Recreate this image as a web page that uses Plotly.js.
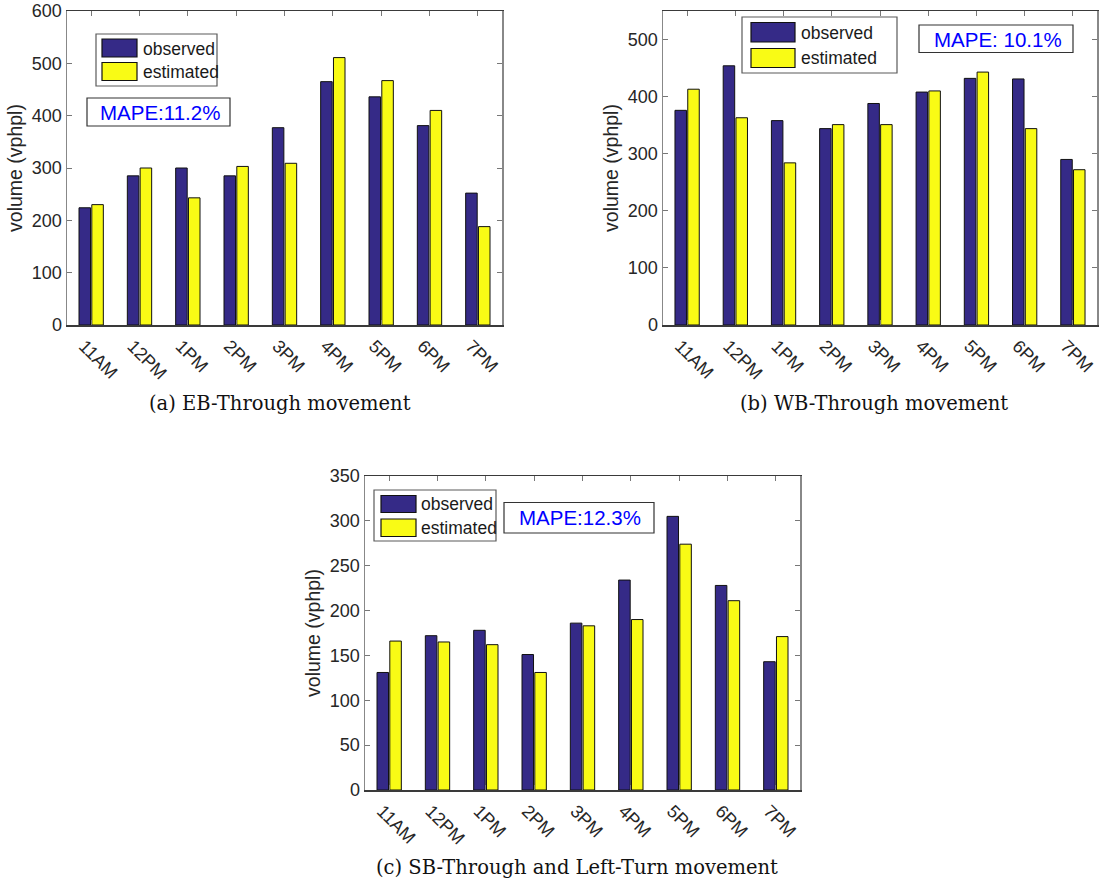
<!DOCTYPE html>
<html>
<head>
<meta charset="utf-8">
<script src="https://cdn.plot.ly/plotly-3.0.1.min.js"></script>
<style>
  html, body { margin: 0; padding: 0; background: #ffffff; }
  #chart { width: 1102px; height: 883px; }
</style>
</head>
<body>
<div id="chart"></div>
<script>
// Hourly volumes (vehicles per hour per lane), observed vs. estimated
const hours = ['11AM', '12PM', '1PM', '2PM', '3PM', '4PM', '5PM', '6PM', '7PM'];

const ebObserved  = [224, 285, 300, 285, 377, 465, 436, 381, 252];
const ebEstimated = [230, 300, 243, 303, 309, 511, 467, 410, 188];

const wbObserved  = [376, 454, 358, 344, 388, 408, 432, 431, 290];
const wbEstimated = [413, 363, 284, 351, 351, 410, 443, 344, 272];

const sbObserved  = [131, 172, 178, 151, 186, 234, 305, 228, 143];
const sbEstimated = [166, 165, 162, 131, 183, 190, 274, 211, 171];

const seriesNames = ['observed', 'estimated'];
const mapeLabels = ['MAPE:11.2%', 'MAPE: 10.1%', 'MAPE:12.3%'];
const captions = ['(a) EB-Through movement', '(b) WB-Through movement',
                  '(c) SB-Through and Left-Turn movement'];

const W = 1102, H = 883;
const COLOR_OBS = '#352a87';
const COLOR_EST = '#f9fb15';
const SANS = 'Liberation Sans, Arial, sans-serif';
const SERIF = 'DejaVu Serif, serif';

// pixel helpers -> paper coordinates
const px = x => x / W;
const py = y => 1 - y / H;

// panel boxes in pixels: [left, top, right, bottom]
const panels = [
  { box: [67, 11, 502, 325], yRange: [0, 600], dtick: 100 },
  { box: [663, 11, 1097, 325], yRange: [0, 550], dtick: 100 },
  { box: [365, 476, 800, 790], yRange: [0, 350], dtick: 50 }
];

const panelData = [
  [ebObserved, ebEstimated],
  [wbObserved, wbEstimated],
  [sbObserved, sbEstimated]
];

const traces = [];
panelData.forEach((pair, i) => {
  const xa = i === 0 ? 'x' : 'x' + (i + 1);
  const ya = i === 0 ? 'y' : 'y' + (i + 1);
  pair.forEach((vals, j) => {
    traces.push({
      type: 'bar',
      x: hours,
      y: vals,
      name: seriesNames[j],
      xaxis: xa,
      yaxis: ya,
      showlegend: false,
      marker: { color: j === 0 ? COLOR_OBS : COLOR_EST, line: { color: '#111111', width: 1 } },
      hoverinfo: 'x+y+name'
    });
  });
});

const layout = {
  width: W,
  height: H,
  autosize: false,
  margin: { l: 0, r: 0, t: 0, b: 0 },
  paper_bgcolor: '#ffffff',
  plot_bgcolor: '#ffffff',
  barmode: 'group',
  bargap: 0.47,
  bargroupgap: 0.1,
  shapes: [],
  annotations: []
};

panels.forEach((p, i) => {
  const [l, t, r, b] = p.box;
  const sx = i === 0 ? '' : String(i + 1);
  layout['xaxis' + sx] = {
    domain: [px(l), px(r)],
    anchor: 'y' + sx,
    type: 'category',
    showline: true,
    linecolor: '#3a3a3a',
    linewidth: 1.5,
    mirror: 'ticks',
    ticks: 'inside',
    ticklen: 5,
    tickcolor: '#777777',
    tickangle: 45,
    ticklabelshift: -7,
    ticklabelstandoff: 2,
    tickfont: { family: SANS, size: 18, color: '#262626' },
    showgrid: false,
    zeroline: false,
    fixedrange: true
  };
  layout['yaxis' + sx] = {
    domain: [py(b), py(t)],
    anchor: 'x' + sx,
    range: p.yRange,
    dtick: p.dtick,
    tick0: 0,
    showline: true,
    linecolor: '#888888',
    linewidth: 1.5,
    mirror: 'ticks',
    ticks: 'inside',
    ticklen: 5,
    tickcolor: '#777777',
    tickfont: { family: SANS, size: 18, color: '#262626' },
    title: { text: 'volume (vphpl)', font: { family: SANS, size: 19.5, color: '#262626' }, standoff: 4 },
    showgrid: false,
    zeroline: false,
    fixedrange: true
  };
});

// legend boxes drawn per panel
const legends = [
  { box: [96, 34, 217, 86], sw: [102, 137], swY: [[39, 57], [62.5, 80.5]], textX: 140.5, textY: [49, 71.5] },
  { box: [742, 17, 897, 73], sw: [751, 795], swY: [[22.5, 42], [48.5, 67.5]], textX: 799, textY: [32.5, 57.5] },
  { box: [374, 490, 496, 541], sw: [381, 416], swY: [[495.5, 512.5], [519, 536.5]], textX: 419, textY: [503.5, 527.5] }
];

legends.forEach(lg => {
  layout.shapes.push({
    type: 'rect', xref: 'paper', yref: 'paper',
    x0: px(lg.box[0]), x1: px(lg.box[2]), y0: py(lg.box[3]), y1: py(lg.box[1]),
    line: { color: '#5a5a5a', width: 1.2 }, fillcolor: '#ffffff'
  });
  [COLOR_OBS, COLOR_EST].forEach((c, j) => {
    layout.shapes.push({
      type: 'rect', xref: 'paper', yref: 'paper',
      x0: px(lg.sw[0]), x1: px(lg.sw[1]), y0: py(lg.swY[j][1]), y1: py(lg.swY[j][0]),
      line: { color: '#111111', width: 1.2 }, fillcolor: c
    });
    layout.annotations.push({
      xref: 'paper', yref: 'paper', x: px(lg.textX), y: py(lg.textY[j]),
      xanchor: 'left', yanchor: 'middle', showarrow: false,
      text: seriesNames[j], font: { family: SANS, size: 17.5, color: '#1a1a1a' }
    });
  });
});

// error-metric boxes
const mapeBoxes = [
  { box: [87, 98, 230, 126], cx: 159.5, cy: 112 },
  { box: [919, 25, 1073, 52.5], cx: 998, cy: 39 },
  { box: [504, 502.5, 654, 533], cx: 580, cy: 517 }
];
mapeBoxes.forEach((m, i) => {
  layout.shapes.push({
    type: 'rect', xref: 'paper', yref: 'paper',
    x0: px(m.box[0]), x1: px(m.box[2]), y0: py(m.box[3]), y1: py(m.box[1]),
    line: { color: '#333333', width: 1.2 }, fillcolor: '#ffffff'
  });
  layout.annotations.push({
    xref: 'paper', yref: 'paper', x: px(m.cx), y: py(m.cy),
    xanchor: 'center', yanchor: 'middle', showarrow: false,
    text: mapeLabels[i], font: { family: SANS, size: 20.5, color: '#0000ff' }
  });
});

// sub-figure captions
const captionPos = [[279.5, 403], [874, 403], [577, 867]];
captions.forEach((c, i) => {
  layout.annotations.push({
    xref: 'paper', yref: 'paper', x: px(captionPos[i][0]), y: py(captionPos[i][1]),
    xanchor: 'center', yanchor: 'middle', showarrow: false,
    text: c, font: { family: SERIF, size: 19.5, color: '#111111' }
  });
});

Plotly.newPlot('chart', traces, layout, { staticPlot: true, displayModeBar: false });
</script>
</body>
</html>
